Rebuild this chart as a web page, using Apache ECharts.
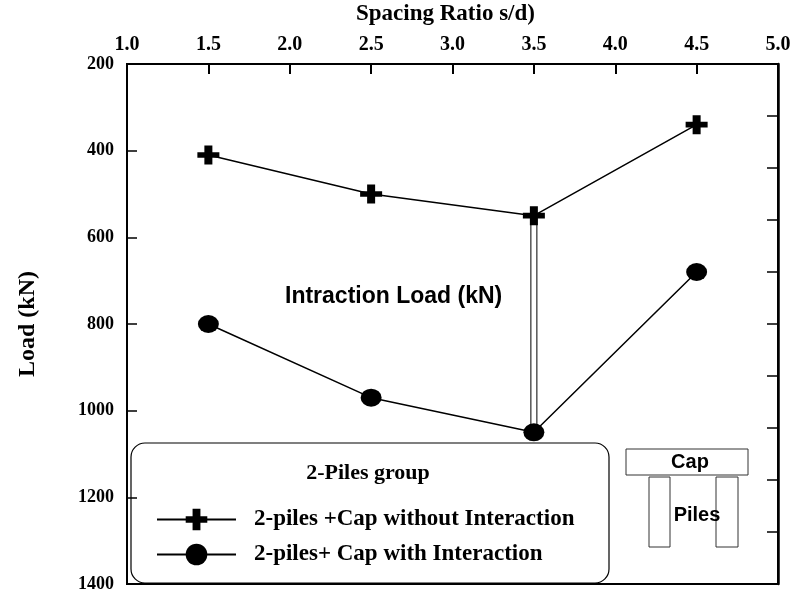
<!DOCTYPE html>
<html>
<head>
<meta charset="utf-8">
<script src="https://cdn.jsdelivr.net/npm/echarts@6/dist/echarts.min.js"></script>
<style>html,body{margin:0;padding:0;background:#fff;}#chart{width:794px;height:593px;}</style>
</head>
<body>
<div id="chart"></div>
<script>
var spacing = [1.5, 2.5, 3.5, 4.5];
var loadNoInteraction = [410, 500, 550, 340];
var loadWithInteraction = [800, 970, 1050, 680];
var xTicks = [1.0, 1.5, 2.0, 2.5, 3.0, 3.5, 4.0, 4.5, 5.0];
var yTicks = [200, 400, 600, 800, 1000, 1200, 1400];
var seriesNames = ['2-piles +Cap without Interaction', '2-piles+ Cap with Interaction'];
var interactionIndex = 2;

var serif = '"Liberation Serif", "Times New Roman", serif';
var sans = '"Liberation Sans", Arial, sans-serif';
var crossPath = 'path://M7,0H15V7H22V13H15V20H7V13H0V7H7Z';

var chart = echarts.init(document.getElementById('chart'));
chart.setOption({
  animation: false,
  backgroundColor: '#fff',
  grid: { left: 127, right: 16, top: 64, bottom: 9, show: true, borderColor: '#000', borderWidth: 2, backgroundColor: 'transparent', outerBoundsMode: 'none', containLabel: false },
  xAxis: [{
    type: 'value', position: 'top', min: xTicks[0], max: xTicks[xTicks.length - 1], interval: 0.5,
    name: 'Spacing Ratio s/d)', nameLocation: 'middle', nameGap: 38,
    nameTextStyle: { fontFamily: serif, fontWeight: 'bold', fontSize: 23, color: '#000', padding: [0, 14, 0, 0] },
    axisLine: { show: true, onZero: false, lineStyle: { color: '#000', width: 2 } },
    axisTick: { show: true, inside: true, length: 10, lineStyle: { color: '#000', width: 2 } },
    axisLabel: { fontFamily: serif, fontWeight: 'bold', fontSize: 20, color: '#000', margin: 9, formatter: function (v) { return v.toFixed(1); } },
    splitLine: { show: false }
  }],
  yAxis: [{
    type: 'value', inverse: true, min: yTicks[0], max: yTicks[yTicks.length - 1], interval: 200,
    name: 'Load (kN)', nameLocation: 'middle', nameGap: 87, nameRotate: 90,
    nameTextStyle: { fontFamily: serif, fontWeight: 'bold', fontSize: 24, color: '#000' },
    axisLine: { show: true, onZero: false, lineStyle: { color: '#000', width: 2 } },
    axisTick: { show: true, inside: true, length: 10, lineStyle: { color: '#000', width: 1.5 } },
    axisLabel: { fontFamily: serif, fontWeight: 'bold', fontSize: 18, color: '#000', margin: 13, formatter: function (v) { return String(v); } },
    splitLine: { show: false }
  }, {
    type: 'value', position: 'right', min: 0, max: 10, interval: 1,
    axisLine: { show: true, onZero: false, lineStyle: { color: '#000', width: 2.5 } },
    axisTick: { show: true, inside: true, length: 11, lineStyle: { color: '#000', width: 1.5 } },
    axisLabel: { show: false },
    splitLine: { show: false }
  }],
  legend: {
    show: true, orient: 'vertical', left: 151, top: 503, z: 20,
    itemWidth: 79, itemHeight: 27, itemGap: 12,
    data: seriesNames,
    textStyle: { fontFamily: serif, fontWeight: 'bold', fontSize: 23, color: '#000', padding: [0, 0, 0, 13] },
    selectedMode: false
  },
  series: [{
    type: 'custom', name: 'interaction', z: 1,
    data: [[spacing[interactionIndex], loadNoInteraction[interactionIndex], loadWithInteraction[interactionIndex]]],
    renderItem: function (params, api) {
      var a = api.coord([api.value(0), api.value(1)]);
      var b = api.coord([api.value(0), api.value(2)]);
      return { type: 'rect', shape: { x: a[0] - 3, y: Math.min(a[1], b[1]), width: 6, height: Math.abs(b[1] - a[1]) },
        style: { fill: '#fff', stroke: '#000', lineWidth: 1 } };
    }
  }, {
    type: 'line', name: seriesNames[0], z: 3,
    data: spacing.map(function (x, i) { return [x, loadNoInteraction[i]]; }),
    symbol: crossPath, symbolSize: [22, 19], showAllSymbol: true,
    itemStyle: { color: '#000' },
    lineStyle: { color: '#000', width: 1.5 }
  }, {
    type: 'line', name: seriesNames[1], z: 3,
    data: spacing.map(function (x, i) { return [x, loadWithInteraction[i]]; }),
    symbol: 'circle', symbolSize: [21, 18], showAllSymbol: true,
    itemStyle: { color: '#000' },
    lineStyle: { color: '#000', width: 1.5 }
  }],
  graphic: [
    { type: 'text', x: 285, y: 297, z: 10, style: { text: 'Intraction Load (kN)', font: 'bold 23px ' + sans, fill: '#000', verticalAlign: 'middle' } },
    { type: 'rect', z: 0, shape: { x: 131, y: 443, width: 478, height: 140, r: 14 }, style: { fill: 'transparent', stroke: '#000', lineWidth: 1.2 } },
    { type: 'text', z: 10, x: 368, y: 473, style: { text: '2-Piles group', font: 'bold 22px ' + serif, fill: '#000', align: 'center', verticalAlign: 'middle' } },
    { type: 'rect', z: 5, shape: { x: 626, y: 449, width: 122, height: 26 }, style: { fill: '#fff', stroke: '#333', lineWidth: 1 } },
    { type: 'text', z: 10, x: 690, y: 462, style: { text: 'Cap', font: 'bold 20px ' + sans, fill: '#000', align: 'center', verticalAlign: 'middle' } },
    { type: 'rect', z: 5, shape: { x: 649, y: 477, width: 21, height: 70 }, style: { fill: '#fff', stroke: '#333', lineWidth: 1 } },
    { type: 'rect', z: 5, shape: { x: 716, y: 477, width: 22, height: 70 }, style: { fill: 'transparent', stroke: '#333', lineWidth: 1 } },
    { type: 'text', z: 10, x: 697, y: 515, style: { text: 'Piles', font: 'bold 20px ' + sans, fill: '#000', align: 'center', verticalAlign: 'middle' } }
  ]
});
</script>
</body>
</html>
